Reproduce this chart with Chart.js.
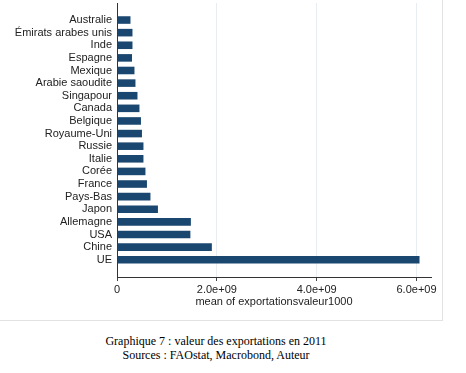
<!DOCTYPE html>
<html>
<head>
<meta charset="utf-8">
<script src="https://cdn.jsdelivr.net/npm/chart.js@4/dist/chart.umd.min.js"></script>
<style>
  html, body { margin: 0; padding: 0; background: #fff; }
  body { width: 466px; height: 373px; position: relative; overflow: hidden; }
  #frame { position: absolute; left: 0; top: 0; width: 442px; height: 320px;
           border-right: 1px solid #e2e2e2; border-bottom: 1px solid #e2e2e2; }
  #c { display: block; }
  #caption { position: absolute; left: 0; width: 432px; top: 334px; text-align: center;
             font-family: "Liberation Serif", "Times New Roman", serif; font-size: 12px;
             line-height: 14px; color: #000; }
</style>
</head>
<body>
<div id="frame"><canvas id="c" width="442" height="320"></canvas></div>
<div id="caption">Graphique 7 : valeur des exportations en 2011<br>Sources : FAOstat, Macrobond, Auteur</div>
<script>
const categories = ["Australie", "Émirats arabes unis", "Inde", "Espagne", "Mexique",
  "Arabie saoudite", "Singapour", "Canada", "Belgique", "Royaume-Uni", "Russie",
  "Italie", "Corée", "France", "Pays-Bas", "Japon", "Allemagne", "USA", "Chine", "UE"];
const exportValues = [0.27e9, 0.31e9, 0.31e9, 0.30e9, 0.35e9, 0.37e9, 0.41e9, 0.45e9,
  0.48e9, 0.50e9, 0.53e9, 0.53e9, 0.57e9, 0.60e9, 0.67e9, 0.82e9, 1.48e9, 1.47e9,
  1.90e9, 6.06e9];
const xTickValues = [0, 2e9, 4e9, 6e9];
const xAxisTitle = "mean of exportationsvaleur1000";

function fmtExp(v) {
  if (v === 0) return "0";
  const s = v.toExponential(1);
  const [m, e] = s.split("e");
  const sign = e[0];
  const digits = e.slice(1).padStart(2, "0");
  return m + "e" + sign + digits;
}

const textColor = "#222";
const font = { family: "'Liberation Sans', Arial, Helvetica, sans-serif", size: 11 };

new Chart(document.getElementById("c"), {
  type: "bar",
  data: {
    datasets: [{
      data: categories.map((c, i) => ({ x: exportValues[i], y: i })),
      backgroundColor: "#1a476f",
      borderWidth: 0,
      barPercentage: 0.6,
      categoryPercentage: 1
    }]
  },
  options: {
    indexAxis: "y",
    responsive: false,
    animation: false,
    plugins: { legend: { display: false }, tooltip: { enabled: false } },
    layout: { padding: { left: 0, right: 11, top: 3, bottom: 0 } },
    scales: {
      x: {
        type: "linear",
        min: 0,
        max: 6.29e9,
        afterBuildTicks: s => { s.ticks = xTickValues.map(v => ({ value: v })); },
        ticks: { callback: v => fmtExp(v), color: textColor, font: font, padding: 2,
                 maxRotation: 0, autoSkip: false },
        grid: { color: c => (c.tick && c.tick.value === 0) ? "rgba(0,0,0,0)" : "#e7edf0",
                tickColor: "#444", tickLength: 4, lineWidth: 1 },
        border: { display: true, color: "#333", width: 1 },
        title: { display: true, text: xAxisTitle, color: textColor, font: font,
                 padding: { top: 0, bottom: 11 } },
        afterFit: s => { s.height = 43; s.paddingLeft = 0; s.paddingRight = 0; }
      },
      y: {
        type: "linear",
        reverse: true,
        offset: false,
        min: -1.35,
        max: 20.37,
        afterBuildTicks: s => { s.ticks = categories.map((c, i) => ({ value: i })); },
        ticks: { callback: v => categories[v], color: textColor, font: font,
                 autoSkip: false, padding: 5 },
        grid: { display: false, offset: false, drawTicks: false, tickLength: 0 },
        border: { display: true, color: "#333", width: 1 },
        afterFit: s => { s.width = 117; s.paddingTop = 0; s.paddingBottom = 0; }
      }
    }
  }
});
</script>
</body>
</html>
